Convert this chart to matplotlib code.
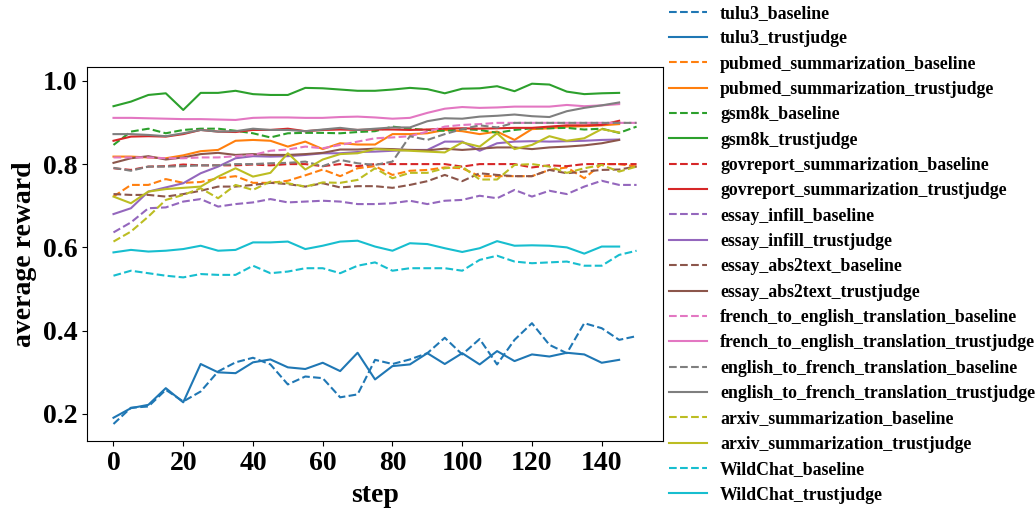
import matplotlib
matplotlib.use("Agg")
import matplotlib.pyplot as plt

plt.rcParams['font.family'] = ['Liberation Serif', 'DejaVu Serif']
plt.rcParams['font.weight'] = 'bold'

steps_baseline = list(range(0, 151, 5))
steps_trustjudge = list(range(0, 146, 5))

tasks = ["tulu3", "pubmed_summarization", "gsm8k", "govreport_summarization",
         "essay_infill", "essay_abs2text", "french_to_english_translation",
         "english_to_french_translation", "arxiv_summarization", "WildChat"]

tulu3_baseline = [0.176, 0.215, 0.218, 0.258, 0.230, 0.254, 0.302, 0.324, 0.335, 0.319,
                  0.271, 0.290, 0.286, 0.240, 0.247, 0.330, 0.320, 0.331, 0.346, 0.383,
                  0.343, 0.380, 0.319, 0.378, 0.418, 0.366, 0.346, 0.418, 0.406, 0.378, 0.387]
tulu3_trustjudge = [0.191, 0.214, 0.222, 0.262, 0.228, 0.320, 0.300, 0.298, 0.324, 0.331,
                    0.312, 0.308, 0.323, 0.303, 0.347, 0.283, 0.315, 0.319, 0.346, 0.320,
                    0.346, 0.319, 0.351, 0.327, 0.343, 0.338, 0.347, 0.343, 0.323, 0.330]

pubmed_summarization_baseline = [0.722, 0.750, 0.750, 0.764, 0.755, 0.757, 0.766, 0.771, 0.755, 0.755,
                                 0.760, 0.773, 0.787, 0.771, 0.790, 0.795, 0.774, 0.784, 0.786, 0.792,
                                 0.790, 0.771, 0.771, 0.771, 0.771, 0.786, 0.792, 0.766, 0.800, 0.800, 0.794]
pubmed_summarization_trustjudge = [0.818, 0.818, 0.816, 0.814, 0.821, 0.831, 0.834, 0.856, 0.858, 0.856,
                                   0.842, 0.854, 0.836, 0.850, 0.847, 0.847, 0.872, 0.872, 0.874, 0.882,
                                   0.879, 0.872, 0.878, 0.858, 0.884, 0.886, 0.890, 0.891, 0.893, 0.896]

gsm8k_baseline = [0.846, 0.878, 0.885, 0.874, 0.882, 0.885, 0.885, 0.880, 0.874, 0.864,
                  0.874, 0.875, 0.875, 0.874, 0.877, 0.879, 0.890, 0.885, 0.882, 0.880,
                  0.884, 0.882, 0.875, 0.882, 0.886, 0.886, 0.887, 0.883, 0.885, 0.875, 0.890]
gsm8k_trustjudge = [0.939, 0.950, 0.966, 0.970, 0.930, 0.971, 0.971, 0.976, 0.968, 0.966,
                    0.966, 0.983, 0.982, 0.979, 0.976, 0.976, 0.979, 0.983, 0.980, 0.970,
                    0.981, 0.982, 0.987, 0.975, 0.993, 0.991, 0.974, 0.968, 0.970, 0.971]

govreport_summarization_baseline = [0.790, 0.786, 0.794, 0.795, 0.799, 0.797, 0.797, 0.797, 0.799, 0.797,
                                    0.800, 0.800, 0.795, 0.800, 0.795, 0.800, 0.800, 0.800, 0.800, 0.800,
                                    0.794, 0.800, 0.800, 0.800, 0.792, 0.797, 0.795, 0.800, 0.800, 0.800, 0.800]
govreport_summarization_trustjudge = [0.856, 0.866, 0.867, 0.866, 0.872, 0.882, 0.878, 0.877, 0.882, 0.882,
                                      0.885, 0.879, 0.882, 0.883, 0.882, 0.883, 0.883, 0.882, 0.883, 0.885,
                                      0.886, 0.885, 0.886, 0.887, 0.887, 0.890, 0.893, 0.893, 0.894, 0.904]

essay_infill_baseline = [0.636, 0.660, 0.694, 0.696, 0.710, 0.716, 0.698, 0.704, 0.708, 0.716,
                         0.708, 0.710, 0.712, 0.710, 0.704, 0.704, 0.706, 0.712, 0.704, 0.712,
                         0.714, 0.724, 0.718, 0.738, 0.722, 0.736, 0.728, 0.746, 0.760, 0.750, 0.750]
essay_infill_trustjudge = [0.680, 0.694, 0.734, 0.744, 0.754, 0.778, 0.794, 0.814, 0.819, 0.818,
                           0.819, 0.822, 0.826, 0.826, 0.829, 0.830, 0.832, 0.834, 0.834, 0.854,
                           0.854, 0.832, 0.850, 0.854, 0.855, 0.854, 0.855, 0.856, 0.858, 0.859]

essay_abs2text_baseline = [0.728, 0.726, 0.726, 0.722, 0.728, 0.736, 0.746, 0.746, 0.750, 0.755,
                           0.752, 0.746, 0.754, 0.744, 0.747, 0.747, 0.743, 0.750, 0.759, 0.774,
                           0.759, 0.778, 0.774, 0.771, 0.771, 0.786, 0.778, 0.782, 0.786, 0.787, 0.794]
essay_abs2text_trustjudge = [0.803, 0.814, 0.819, 0.811, 0.816, 0.824, 0.827, 0.822, 0.824, 0.822,
                             0.822, 0.824, 0.827, 0.835, 0.835, 0.837, 0.836, 0.834, 0.833, 0.837,
                             0.834, 0.837, 0.840, 0.840, 0.836, 0.840, 0.842, 0.845, 0.850, 0.858]

french_to_english_translation_baseline = [0.816, 0.816, 0.816, 0.814, 0.814, 0.816, 0.816, 0.819, 0.822, 0.832,
                                          0.835, 0.842, 0.838, 0.846, 0.854, 0.862, 0.864, 0.867, 0.878, 0.890,
                                          0.894, 0.896, 0.899, 0.899, 0.899, 0.899, 0.899, 0.899, 0.899, 0.899, 0.899]
french_to_english_translation_trustjudge = [0.911, 0.911, 0.910, 0.909, 0.908, 0.908, 0.907, 0.906, 0.911, 0.912,
                                            0.912, 0.911, 0.911, 0.913, 0.914, 0.912, 0.909, 0.911, 0.923, 0.933,
                                            0.937, 0.935, 0.936, 0.938, 0.938, 0.938, 0.942, 0.939, 0.941, 0.944]

english_to_french_translation_baseline = [0.791, 0.784, 0.794, 0.794, 0.795, 0.797, 0.797, 0.800, 0.800, 0.802,
                                          0.803, 0.806, 0.795, 0.810, 0.802, 0.798, 0.806, 0.867, 0.858, 0.872,
                                          0.884, 0.893, 0.888, 0.899, 0.899, 0.899, 0.899, 0.899, 0.899, 0.899, 0.899]
english_to_french_translation_trustjudge = [0.872, 0.872, 0.870, 0.867, 0.874, 0.882, 0.878, 0.879, 0.885, 0.882,
                                            0.882, 0.879, 0.883, 0.887, 0.882, 0.885, 0.888, 0.888, 0.903, 0.910,
                                            0.909, 0.914, 0.916, 0.919, 0.915, 0.913, 0.927, 0.935, 0.941, 0.948]

arxiv_summarization_baseline = [0.614, 0.638, 0.674, 0.714, 0.726, 0.742, 0.718, 0.750, 0.738, 0.758,
                                0.754, 0.746, 0.756, 0.755, 0.762, 0.790, 0.766, 0.779, 0.779, 0.790,
                                0.794, 0.763, 0.763, 0.798, 0.800, 0.794, 0.779, 0.790, 0.798, 0.782, 0.794]
arxiv_summarization_trustjudge = [0.722, 0.706, 0.734, 0.740, 0.743, 0.746, 0.770, 0.790, 0.770, 0.779,
                                  0.826, 0.787, 0.811, 0.824, 0.826, 0.836, 0.834, 0.832, 0.830, 0.828,
                                  0.852, 0.842, 0.874, 0.836, 0.846, 0.867, 0.856, 0.862, 0.884, 0.876]

WildChat_baseline = [0.532, 0.544, 0.538, 0.532, 0.528, 0.536, 0.534, 0.534, 0.556, 0.538,
                     0.542, 0.550, 0.550, 0.538, 0.556, 0.564, 0.544, 0.550, 0.550, 0.550,
                     0.544, 0.570, 0.580, 0.566, 0.562, 0.564, 0.566, 0.556, 0.556, 0.582, 0.592]
WildChat_trustjudge = [0.588, 0.594, 0.590, 0.592, 0.596, 0.604, 0.592, 0.594, 0.612, 0.612,
                       0.614, 0.596, 0.604, 0.614, 0.616, 0.602, 0.592, 0.610, 0.608, 0.598,
                       0.589, 0.598, 0.615, 0.604, 0.605, 0.604, 0.600, 0.585, 0.602, 0.602]

series = {
    "tulu3": (tulu3_baseline, tulu3_trustjudge),
    "pubmed_summarization": (pubmed_summarization_baseline, pubmed_summarization_trustjudge),
    "gsm8k": (gsm8k_baseline, gsm8k_trustjudge),
    "govreport_summarization": (govreport_summarization_baseline, govreport_summarization_trustjudge),
    "essay_infill": (essay_infill_baseline, essay_infill_trustjudge),
    "essay_abs2text": (essay_abs2text_baseline, essay_abs2text_trustjudge),
    "french_to_english_translation": (french_to_english_translation_baseline, french_to_english_translation_trustjudge),
    "english_to_french_translation": (english_to_french_translation_baseline, english_to_french_translation_trustjudge),
    "arxiv_summarization": (arxiv_summarization_baseline, arxiv_summarization_trustjudge),
    "WildChat": (WildChat_baseline, WildChat_trustjudge),
}

colors = plt.rcParams['axes.prop_cycle'].by_key()['color']

fig = plt.figure(figsize=(10.36, 5.08), dpi=100)
ax = fig.add_axes([0.0843, 0.1319, 0.5554, 0.7368])

for i, t in enumerate(tasks):
    b, tj = series[t]
    c = colors[i % len(colors)]
    ax.plot(steps_baseline, b, linestyle='--', color=c, label=f"{t}_baseline")
    ax.plot(steps_trustjudge, tj, linestyle='-', color=c, label=f"{t}_trustjudge")

ax.set_xticks([0, 20, 40, 60, 80, 100, 120, 140])
ax.set_yticks([0.2, 0.4, 0.6, 0.8, 1.0])
ax.tick_params(labelsize=20)
for lab in ax.get_xticklabels() + ax.get_yticklabels():
    lab.set_fontweight('bold')
ax.set_xlabel("step", fontsize=20, fontweight='bold', labelpad=5)
ax.set_ylabel("average reward", fontsize=20, fontweight='bold')

ax.legend(loc='upper left', bbox_to_anchor=(0.6445, 0.994), bbox_transform=fig.transFigure,
          frameon=False, prop={'family': 'Liberation Serif', 'weight': 'bold', 'size': 12.8},
          handlelength=2.1, borderaxespad=0, borderpad=0.1, labelspacing=0.47, handletextpad=0.75)

fig.savefig("out.png", dpi=100)
